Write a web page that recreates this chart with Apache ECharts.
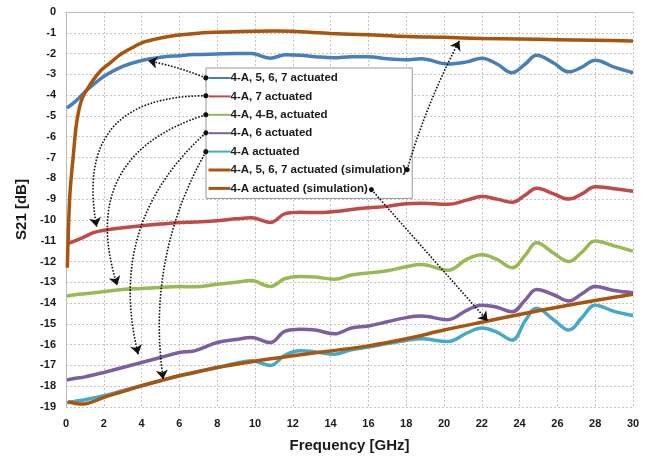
<!DOCTYPE html>
<html>
<head>
<meta charset="utf-8">
<script src="https://cdn.jsdelivr.net/npm/echarts@6/dist/echarts.min.js"></script>
<style>
  html, body { margin: 0; padding: 0; background: #fff; }
  #chart { width: 647px; height: 462px; }
</style>
</head>
<body>
<div id="chart"></div>
<script>
// measured curves share one frequency grid [GHz]
var freq = [0.05, 0.5, 1, 1.5, 2, 3, 4, 5, 6, 6.8, 8, 9, 9.8, 10.8, 11.6, 12.4, 13.2, 14.2, 15.1, 16, 17, 18, 18.8,
  20.2, 21.2, 22, 22.8, 23.6, 24.3, 24.9, 25.8, 26.6, 27.3, 28, 29, 30];

var s4A5667 = [-4.62, -4.3, -3.85, -3.45, -3.1, -2.62, -2.33, -2.18, -2.1, -2.05, -2.02, -2.0, -2.0, -2.22, -2.06, -2.08,
  -2.15, -2.2, -2.15, -2.15, -2.25, -2.3, -2.25, -2.5, -2.4, -2.22, -2.5, -2.92, -2.5, -2.08, -2.45, -2.88, -2.65, -2.32, -2.65, -2.92];
var s4A7 = [-11.15, -11.0, -10.8, -10.6, -10.5, -10.38, -10.28, -10.2, -10.13, -10.1, -10.04, -9.95, -9.9, -10.12, -9.7, -9.63,
  -9.65, -9.6, -9.5, -9.42, -9.35, -9.22, -9.2, -9.25, -9.05, -8.88, -9.0, -9.15, -8.8, -8.48, -8.75, -9.0, -8.75, -8.4, -8.5, -8.62];
var s4A4B = [-13.66, -13.6, -13.55, -13.5, -13.45, -13.35, -13.3, -13.25, -13.2, -13.22, -13.1, -13.0, -12.92, -13.2, -12.82, -12.72,
  -12.75, -12.85, -12.65, -12.55, -12.45, -12.25, -12.15, -12.42, -11.9, -11.68, -11.9, -12.3, -11.7, -11.1, -11.6, -12.0, -11.55, -11.02, -11.25, -11.5];
var s4A6 = [-17.7, -17.62, -17.55, -17.45, -17.34, -17.1, -16.86, -16.62, -16.38, -16.3, -15.9, -15.75, -15.66, -15.9, -15.35, -15.26,
  -15.3, -15.48, -15.2, -15.1, -14.9, -14.7, -14.62, -14.8, -14.35, -14.1, -14.2, -14.42, -13.85, -13.35, -13.6, -13.9, -13.55, -13.2, -13.4, -13.5];
var s4A = [-18.8, -18.72, -18.65, -18.55, -18.46, -18.22, -17.98, -17.74, -17.5, -17.35, -17.1, -16.9, -16.78, -17.0, -16.5, -16.3,
  -16.35, -16.46, -16.25, -16.12, -15.95, -15.8, -15.72, -15.85, -15.45, -15.2, -15.4, -15.78, -14.85, -14.25, -14.8, -15.3, -14.7, -14.1, -14.4, -14.6];

// simulations
var simFreqA = [0.07, 0.2, 0.4, 0.56, 0.83, 1.27, 1.8, 2.4, 2.85, 3.5, 4.1, 5, 5.85, 7, 8.5, 10, 11, 12, 14, 16, 18, 20, 22, 24, 26, 28, 30];
var sim4A5667 = [-12.3, -8.86, -6.78, -5.34, -4.22, -3.5, -2.86, -2.4, -2.06, -1.72, -1.45, -1.25, -1.12, -1.02, -0.96, -0.92,
  -0.91, -0.93, -1.03, -1.1, -1.18, -1.22, -1.27, -1.3, -1.33, -1.36, -1.39];
var simFreqB = [0.1, 0.5, 0.9, 1.5, 2, 3, 4, 6, 8, 10, 12, 14, 16, 18, 20, 22, 24, 26, 28, 30];
var sim4A = [-18.75, -18.83, -18.86, -18.72, -18.54, -18.26, -17.98, -17.5, -17.1, -16.8, -16.54, -16.3, -16.06, -15.72,
  -15.3, -14.92, -14.55, -14.2, -13.88, -13.58];

var names = ['4-A, 5, 6, 7 actuated', '4-A, 7 actuated', '4-A, 4-B, actuated', '4-A, 6 actuated', '4-A actuated',
  '4-A, 5, 6, 7 actuated (simulation)', '4-A actuated (simulation)'];
var colors = ['#4A7EBB', '#BE4B48', '#98B954', '#7D5FA0', '#46AAC5', '#A9540F', '#A9540F'];

// annotation arrows: [fromGHz, fromdB, toGHz, todB, curveness]
var arrows = [
  [7.40, -3.17, 4.35, -2.35, -0.05],
  [7.40, -4.03, 1.62, -10.33, -0.6],
  [7.40, -4.94, 2.71, -13.15, -0.5],
  [7.40, -5.81, 3.82, -16.46, -0.3],
  [7.40, -6.72, 5.14, -17.66, -0.17],
  [18.05, -7.58, 20.81, -1.39, 0.05],
  [16.16, -8.54, 22.31, -14.86, 0]
];

function pairs(xs, ys) {
  return xs.map(function (x, i) { return [x, ys[i]]; });
}

var chart = echarts.init(document.getElementById('chart'));
var measured = [s4A5667, s4A7, s4A4B, s4A6, s4A];
var series = measured.map(function (vals, i) {
  return {
    name: names[i],
    type: 'line',
    data: pairs(freq, vals),
    smooth: 0.4,
    symbol: 'none',
    lineStyle: { width: 3.5, color: colors[i] },
    itemStyle: { color: colors[i] }
  };
});
series.push({
  name: names[5], type: 'line', data: pairs(simFreqA, sim4A5667), smooth: 0.3, symbol: 'none',
  lineStyle: { width: 3.5, color: colors[5] }, itemStyle: { color: colors[5] }
});
series.push({
  name: names[6], type: 'line', data: pairs(simFreqB, sim4A), smooth: 0.3, symbol: 'none',
  lineStyle: { width: 3.5, color: colors[6] }, itemStyle: { color: colors[6] }
});
series.push({
  type: 'lines',
  coordinateSystem: 'cartesian2d',
  z: 8,
  symbol: ['circle', 'arrow'],
  symbolSize: [5, 9],
  lineStyle: { color: '#111', width: 1.6, type: 'dotted', opacity: 1 },
  data: arrows.map(function (a) {
    return { coords: [[a[0], a[1]], [a[2], a[3]]], lineStyle: { curveness: a[4] } };
  })
});

var boldText = { fontFamily: 'Liberation Sans, Arial, sans-serif', fontWeight: 'bold', color: '#1a1a1a' };

chart.setOption({
  animation: false,
  textStyle: { fontFamily: 'Liberation Sans, Arial, sans-serif' },
  grid: { left: 66, right: 14, top: 12, bottom: 55 },
  legend: {
    data: names.map(function (n, i) {
      return { name: n, lineStyle: { width: i > 4 ? 3 : 2 } };
    }),
    orient: 'vertical',
    left: 206,
    top: 68,
    z: 3,
    padding: [4, 6, 4, 1],
    itemWidth: 22,
    itemHeight: 12,
    itemGap: 6.4,
    itemStyle: { opacity: 0 },
    backgroundColor: '#fff',
    borderColor: '#999',
    borderWidth: 1,
    textStyle: { fontFamily: 'Liberation Sans, Arial, sans-serif', fontWeight: 'bold', fontSize: 11.5, color: '#1a1a1a', padding: [0, 0, 0, -5] }
  },
  xAxis: {
    type: 'value',
    min: 0,
    max: 30,
    interval: 2,
    name: 'Frequency [GHz]',
    nameLocation: 'middle',
    nameGap: 31,
    nameTextStyle: Object.assign({ fontSize: 15 }, boldText),
    axisLine: { lineStyle: { color: '#bbb' } },
    axisTick: { show: false },
    axisLabel: Object.assign({ fontSize: 11, margin: 11 }, boldText),
    splitLine: { show: true, lineStyle: { color: '#c4c4c4', type: [2, 2] } }
  },
  yAxis: {
    type: 'value',
    min: -19,
    max: 0,
    interval: 1,
    name: 'S21 [dB]',
    nameLocation: 'middle',
    nameGap: 36,
    nameTextStyle: Object.assign({ fontSize: 15 }, boldText),
    axisLine: { show: true, lineStyle: { color: '#bbb' } },
    axisTick: { show: false },
    axisLabel: Object.assign({ fontSize: 11, margin: 10 }, boldText),
    splitLine: { show: true, lineStyle: { color: '#c4c4c4', type: [2, 2] } }
  },
  series: series
});
</script>
</body>
</html>
